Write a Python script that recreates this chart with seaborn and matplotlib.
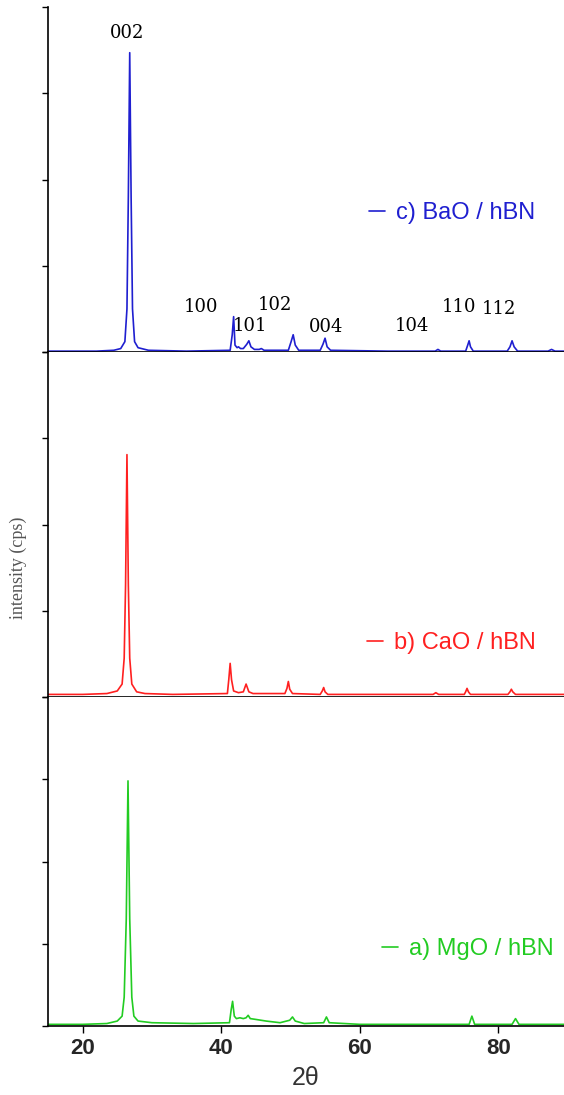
import numpy as np
import pandas as pd
from matplotlib import pyplot as plt
import seaborn as sns

# XRD patterns (intensity in panel units, 4 units = panel height)
x_bao = [15.0, 22.0, 24.5, 25.5, 26.1, 26.4, 26.6, 26.8, 27.0, 27.2, 27.5, 28.0, 29.5, 35.0,
         41.3, 41.6, 41.8, 42.0, 42.3, 42.5, 42.8, 43.2, 43.7, 44.0, 44.3, 44.8, 45.5, 45.8, 46.2,
         49.7, 50.1, 50.4, 50.7, 51.2, 54.3, 54.7, 55.0, 55.3, 55.8, 64.0, 70.9, 71.3, 71.7,
         75.3, 75.6, 75.8, 76.0, 76.4, 81.3, 81.7, 82.0, 82.3, 82.8, 87.2, 87.7, 88.2, 89.5]
y_bao = [0.01, 0.01, 0.02, 0.04, 0.12, 0.5, 1.8, 3.47, 1.8, 0.5, 0.12, 0.05, 0.02, 0.01,
         0.02, 0.2, 0.41, 0.08, 0.05, 0.06, 0.04, 0.04, 0.09, 0.13, 0.06, 0.03, 0.03, 0.04, 0.02,
         0.02, 0.12, 0.20, 0.08, 0.02, 0.02, 0.09, 0.16, 0.06, 0.02, 0.01, 0.01, 0.03, 0.01,
         0.01, 0.08, 0.13, 0.06, 0.01, 0.01, 0.06, 0.13, 0.06, 0.01, 0.01, 0.03, 0.01, 0.01]

x_cao = [15.0, 20.0, 23.5, 25.0, 25.7, 26.0, 26.2, 26.4, 26.6, 26.8, 27.1, 27.8, 29.0, 33.0,
         40.9, 41.1, 41.3, 41.5, 41.8, 42.5, 43.2, 43.6, 44.0, 44.6, 49.2, 49.5, 49.7, 49.9, 50.3,
         54.3, 54.6, 54.8, 55.0, 55.4, 65.0, 70.6, 71.0, 71.4, 75.1, 75.3, 75.5, 75.7, 76.0,
         81.4, 81.7, 81.9, 82.1, 82.5, 89.5]
y_cao = [0.03, 0.03, 0.04, 0.07, 0.15, 0.45, 1.3, 2.81, 1.3, 0.45, 0.15, 0.06, 0.04, 0.03,
         0.04, 0.2, 0.39, 0.2, 0.07, 0.05, 0.06, 0.15, 0.06, 0.04, 0.04, 0.10, 0.18, 0.09, 0.04,
         0.03, 0.07, 0.11, 0.06, 0.03, 0.03, 0.03, 0.05, 0.03, 0.03, 0.06, 0.10, 0.06, 0.03,
         0.03, 0.06, 0.09, 0.06, 0.03, 0.03]

x_mgo = [15.0, 20.0, 23.5, 25.0, 25.7, 26.0, 26.3, 26.55, 26.8, 27.1, 27.4, 28.0, 30.0, 36.0,
         41.2, 41.45, 41.65, 41.9, 42.2, 42.7, 43.2, 43.6, 43.9, 44.2, 45.0, 46.5, 48.5,
         49.9, 50.3, 50.7, 52.0, 54.8, 55.2, 55.6, 60.0, 75.8, 76.2, 76.6, 82.0, 82.5, 83.0, 89.5]
y_mgo = [0.02, 0.02, 0.03, 0.06, 0.12, 0.35, 1.3, 2.98, 1.3, 0.35, 0.12, 0.06, 0.04, 0.03,
         0.04, 0.2, 0.30, 0.12, 0.09, 0.10, 0.09, 0.10, 0.13, 0.09, 0.08, 0.06, 0.04,
         0.07, 0.11, 0.06, 0.03, 0.04, 0.11, 0.04, 0.02, 0.02, 0.12, 0.02, 0.02, 0.09, 0.02, 0.02]

# hBN reflections labelled on the top pattern
hkl_labels = ['002', '100', '101', '102', '004', '104', '110', '112']
hkl_x = [26.4, 37.1, 44.2, 47.8, 55.2, 67.5, 74.3, 80.1]
hkl_y = [3.70, 0.52, 0.30, 0.55, 0.29, 0.30, 0.52, 0.50]

series = [
    ('c) BaO / hBN', x_bao, y_bao, '#1f1fd0', (0.622, 0.403)),
    ('b) CaO / hBN', x_cao, y_cao, '#ff2020', (0.618, 0.157)),
    ('a) MgO / hBN', x_mgo, y_mgo, '#22cc22', (0.647, 0.234)),
]

sns.set_style('ticks')
plt.rcParams['font.family'] = ['Liberation Sans', 'DejaVu Sans']

fig, axes = plt.subplots(3, 1, figsize=(5.64, 10.95), dpi=100, sharex=True,
                         gridspec_kw={'height_ratios': [345, 345, 329], 'hspace': 0})
fig.subplots_adjust(left=48 / 564, right=1.0, top=1 - 7 / 1095, bottom=1 - 1026 / 1095)

for ax, (label, xs, ys, color, anchor) in zip(axes, series):
    df = pd.DataFrame({'two_theta': xs, 'intensity': ys})
    sns.lineplot(data=df, x='two_theta', y='intensity', ax=ax, color=color,
                 linewidth=1.2, estimator=None, label=label)
    ax.set_ylim(0, 4)
    ax.set_yticks([0, 1, 2, 3, 4])
    ax.set_yticklabels([])
    ax.set_ylabel('')
    ax.set_xlabel('')
    for side in ['top', 'right']:
        ax.spines[side].set_visible(False)
    for side in ['left', 'bottom']:
        ax.spines[side].set_color('black')
        ax.spines[side].set_linewidth(1.2)
    ax.tick_params(axis='y', direction='out', length=4, width=1, color='black')
    ax.tick_params(axis='x', direction='out', length=5, width=1, color='black')
    ax.legend(loc='center left', bbox_to_anchor=anchor, frameon=False,
              handlelength=0.7, handletextpad=0.45, borderpad=0, borderaxespad=0,
              labelcolor='linecolor', fontsize=17)

axes[0].set_xlim(15, 89.5)
axes[2].set_xticks([20, 40, 60, 80])
axes[2].set_xticklabels(['20', '40', '60', '80'], fontsize=16, fontweight='bold')
axes[2].set_xlabel('2θ', fontsize=18, color='#333333', labelpad=5)

for lab, hx, hy in zip(hkl_labels, hkl_x, hkl_y):
    axes[0].text(hx, hy, lab, ha='center', va='center', fontsize=13,
                 family=['DejaVu Serif'], color='black')

fig.text(18 / 564, 1 - 568 / 1095, 'intensity (cps)', rotation=90, ha='center', va='center',
         fontsize=13, color='#555555', family=['Liberation Serif', 'DejaVu Serif'])

plt.savefig('out.png', dpi=100)
